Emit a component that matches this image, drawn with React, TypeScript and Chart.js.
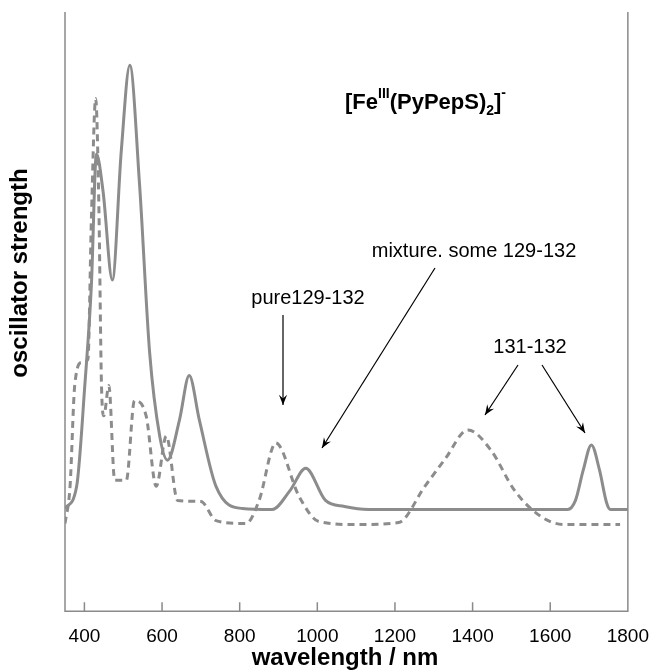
import React, { useEffect, useRef } from "react";
import { Chart, registerables } from "chart.js";
Chart.register(...registerables);

const solidNm = [350, 380, 401, 418, 431, 448, 472, 495, 517, 542, 568, 594, 614, 645, 670, 696, 739, 807, 884, 930, 970, 1021, 1070, 1132, 1645, 1665, 1685, 1706, 1727, 1745, 1755, 1800];
const solidVal = [102, 124, 224, 324, 454, 417, 329, 457, 542, 424, 257, 174, 150, 190, 234, 190, 124, 102, 101, 120, 142, 110, 104, 101, 101, 110, 140, 165, 140, 108, 101, 101];
const dashNm = [350, 363, 375, 393, 409, 418, 429, 437, 444, 450, 463, 478, 508, 529, 559, 585, 611, 640, 700, 739, 816, 850, 893, 953, 1004, 1100, 1209, 1277, 1329, 1388, 1447, 1508, 1576, 1637, 1780];
const dashVal = [87, 124, 224, 247, 250, 390, 509, 407, 224, 194, 224, 130, 130, 209, 194, 124, 174, 110, 109, 90, 87, 110, 167, 114, 89, 86, 88, 124, 151, 180, 160, 120, 94, 86, 86];
const xTicks = [400, 600, 800, 1000, 1200, 1400, 1600, 1800];

const GRAY = "#8c8c8c";
const FONT = "Arial, 'Liberation Sans', sans-serif";

const overlay = {
  id: "overlay",
  afterDraw(chart: any) {
    const { ctx, chartArea: a } = chart;
    const xs = chart.scales.x;
    ctx.save();
    ctx.strokeStyle = "#8a8a8a";
    ctx.lineWidth = 1.5;
    ctx.beginPath();
    ctx.moveTo(a.left, a.top); ctx.lineTo(a.left, a.bottom); ctx.lineTo(a.right, a.bottom); ctx.lineTo(a.right, a.top);
    for (const t of xTicks) {
      const px = xs.getPixelForValue(t);
      if (t < 1800) { ctx.moveTo(px, a.bottom); ctx.lineTo(px, a.bottom - 9); }
    }
    ctx.stroke();

    ctx.fillStyle = "#000";
    ctx.font = `bold 24px ${FONT}`;
    ctx.textAlign = "center"; ctx.textBaseline = "middle";
    ctx.fillText("wavelength / nm", 345, 658);
    ctx.save();
    ctx.translate(20, 273); ctx.rotate(-Math.PI / 2);
    ctx.fillText("oscillator strength", 0, 0);
    ctx.restore();

    ctx.font = `20px ${FONT}`;
    ctx.fillText("mixture. some 129-132", 474, 251);
    ctx.fillText("pure129-132", 308, 298);
    ctx.fillText("131-132", 530, 347);

    const parts: [string, number, number][] = [["[Fe", 22, 0], ["III", 14, -9], ["(PyPepS)", 22, 0], ["2", 14, 8], ["]", 22, 0], ["-", 14, -10]];
    let x = 345;
    ctx.textAlign = "left";
    for (const [t, s, dy] of parts) {
      ctx.font = `bold ${s}px ${FONT}`;
      ctx.fillText(t, x, 103 + dy);
      x += ctx.measureText(t).width;
    }

    const arrow = (x1: number, y1: number, x2: number, y2: number) => {
      ctx.strokeStyle = "#000"; ctx.lineWidth = 1.2;
      ctx.beginPath(); ctx.moveTo(x1, y1); ctx.lineTo(x2, y2); ctx.stroke();
      const ang = Math.atan2(y2 - y1, x2 - x1);
      const L = 11, W = 0.38;
      ctx.beginPath();
      ctx.moveTo(x2, y2);
      ctx.lineTo(x2 - L * Math.cos(ang - W), y2 - L * Math.sin(ang - W));
      ctx.lineTo(x2 - L * 0.6 * Math.cos(ang), y2 - L * 0.6 * Math.sin(ang));
      ctx.lineTo(x2 - L * Math.cos(ang + W), y2 - L * Math.sin(ang + W));
      ctx.closePath(); ctx.fillStyle = "#000"; ctx.fill();
    };
    arrow(283, 315, 283, 405);
    arrow(435, 268, 322, 448);
    arrow(518, 365, 485, 415);
    arrow(542, 365, 585, 433);
    ctx.restore();
  },
};

export default function App() {
  const ref = useRef<HTMLCanvasElement>(null);
  useEffect(() => {
    const chart = new Chart(ref.current!, {
      type: "line",
      data: {
        datasets: [
          { data: solidNm.map((x, i) => ({ x, y: solidVal[i] })), borderColor: GRAY, borderWidth: 3, pointRadius: 0, cubicInterpolationMode: "monotone" },
          { data: dashNm.map((x, i) => ({ x, y: dashVal[i] })), borderColor: GRAY, borderWidth: 3, borderDash: [7, 5], pointRadius: 0, cubicInterpolationMode: "monotone" },
        ],
      },
      options: {
        animation: false,
        responsive: false,
        layout: { padding: { left: 65, right: 24, top: 12, bottom: 17 } },
        plugins: { legend: { display: false }, tooltip: { enabled: false } },
        scales: {
          x: {
            type: "linear", min: 350, max: 1800,
            afterBuildTicks: (s: any) => { s.ticks = xTicks.map((v) => ({ value: v })); },
            grid: { display: false }, border: { display: false },
            ticks: { color: "#000", font: { size: 19, family: FONT }, padding: 6, maxRotation: 0, callback: (v: any) => String(v) },
          },
          y: { display: false, min: 0, max: 595 },
        },
      },
      plugins: [overlay],
    } as any);
    return () => chart.destroy();
  }, []);
  return (
    <div style={{ position: "fixed", left: 0, top: 0 }}>
      <canvas ref={ref} width={655} height={671} style={{ width: 655, height: 671 }} />
    </div>
  );
}
